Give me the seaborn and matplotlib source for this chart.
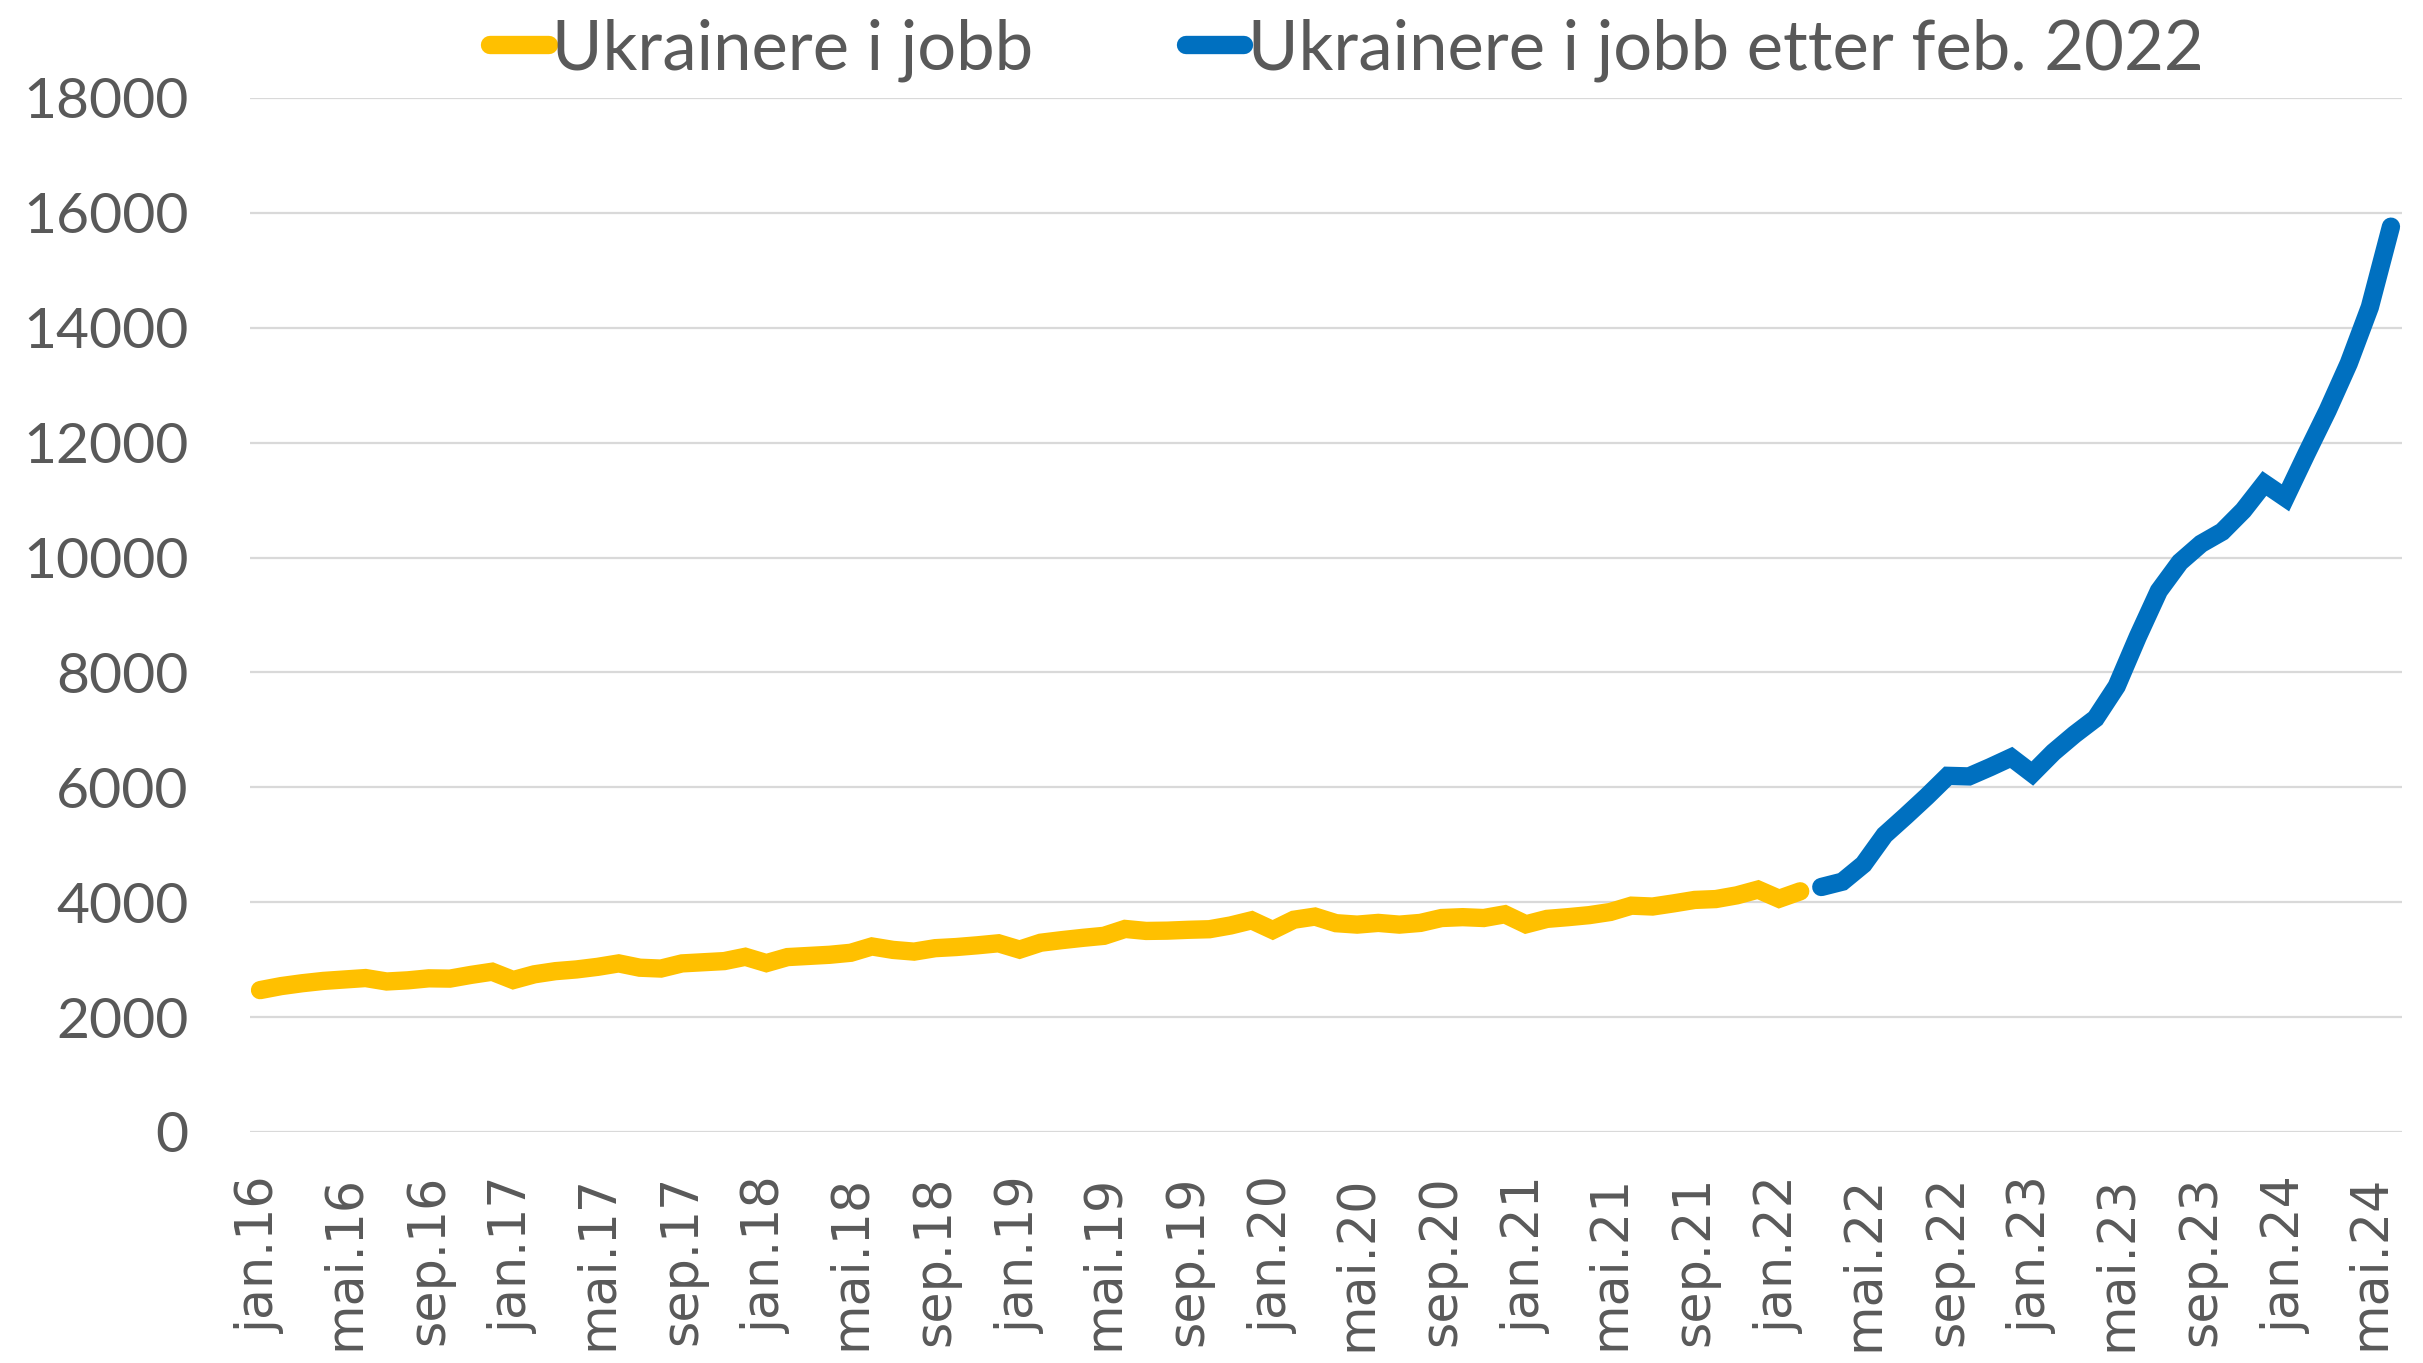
import numpy as np
import pandas as pd
import matplotlib
matplotlib.use("Agg")
import matplotlib.pyplot as plt
import seaborn as sns

# ---- data ----
month_abbr = ["jan", "feb", "mar", "apr", "mai", "jun", "jul", "aug", "sep", "okt", "nov", "des"]
years = [16, 17, 18, 19, 20, 21, 22, 23, 24]
months = [f"{m}.{y}" for y in years for m in month_abbr][:102]  # jan.16 .. jun.24

ukr_jobb = [
    2470, 2540, 2590, 2630, 2655, 2680, 2620, 2640, 2675, 2670, 2735, 2790,
    2645, 2745, 2800, 2830, 2875, 2935, 2860, 2845, 2935, 2955, 2975, 3050,
    2940, 3045, 3065, 3085, 3120, 3230, 3170, 3140, 3200, 3220, 3250, 3285,
    3175, 3295, 3340, 3380, 3415, 3535, 3500, 3505, 3520, 3530, 3595, 3685,
    3515, 3695, 3750, 3635, 3610, 3640, 3610, 3640, 3725, 3740, 3725, 3790,
    3615, 3710, 3740, 3775, 3830, 3940, 3925, 3980, 4040, 4055, 4120, 4220,
    4060, 4190,
]
ukr_jobb_etter = [
    4265, 4358, 4660, 5170, 5500, 5840, 6200, 6190, 6350, 6520,
    6240, 6610, 6920, 7200, 7760, 8620, 9420, 9920, 10240, 10450,
    10820, 11290, 11040, 11810, 12560, 13380, 14360, 15760,
]
label_a = "Ukrainere i jobb"
label_b = "Ukrainere i jobb etter feb. 2022"
yticks = list(range(0, 18001, 2000))
tick_step = 4

df_a = pd.DataFrame({"pos": np.arange(len(ukr_jobb)), "verdi": ukr_jobb})
df_b = pd.DataFrame({"pos": np.arange(len(ukr_jobb), len(ukr_jobb) + len(ukr_jobb_etter)),
                     "verdi": ukr_jobb_etter})

# ---- style ----
sns.set_theme(style="white")
plt.rcParams["font.family"] = ["Lato", "DejaVu Sans"]

W, H = 2423, 1363
fig = plt.figure(figsize=(W / 100, H / 100), dpi=100)
left, right = 249.5 / W, 2401.5 / W
bottom, top = 1 - 1132 / H, 1 - 98 / H
ax = fig.add_axes([left, bottom, right - left, top - bottom])

lw = 13.2
sns.lineplot(data=df_a, x="pos", y="verdi", ax=ax, color="#FFC000", linewidth=lw,
             label=label_a, solid_capstyle="round", solid_joinstyle="miter")
sns.lineplot(data=df_b, x="pos", y="verdi", ax=ax, color="#0070C0", linewidth=lw,
             label=label_b, solid_capstyle="round", solid_joinstyle="miter")

ax.set_xlim(-0.5, len(months) - 0.5)
ax.set_ylim(0, 18000)
ax.set_yticks(yticks)
ax.set_yticklabels([str(t) for t in yticks], fontsize=41, color="#595959",
                   family=["Lato", "DejaVu Sans"])
tick_pos = list(range(0, len(months), tick_step))
ax.set_xticks(tick_pos)
ax.set_xticklabels([months[i] for i in tick_pos], rotation=90, fontsize=36.5,
                   color="#595959", family=["DejaVu Sans"])
ax.tick_params(axis="y", length=0, pad=44)
ax.tick_params(axis="x", length=0, pad=31)
ax.set_xlabel("")
ax.set_ylabel("")
for s in ax.spines.values():
    s.set_visible(False)
ax.yaxis.grid(True, color="#D9D9D9", linewidth=1.6)
ax.xaxis.grid(False)
ax.set_axisbelow(True)

ax.legend_.remove()
handles, labels = ax.get_legend_handles_labels()
fig.legend(handles, labels, loc="center", bbox_to_anchor=(1347 / W, 1 - 50 / H),
           ncol=2, frameon=False, handlelength=0.85,
           handletextpad=0.05, columnspacing=2.22, labelcolor="#595959",
           prop={"family": ["Lato", "DejaVu Sans"], "size": 49.5})

fig.savefig("out.png", dpi=100, facecolor="white")
